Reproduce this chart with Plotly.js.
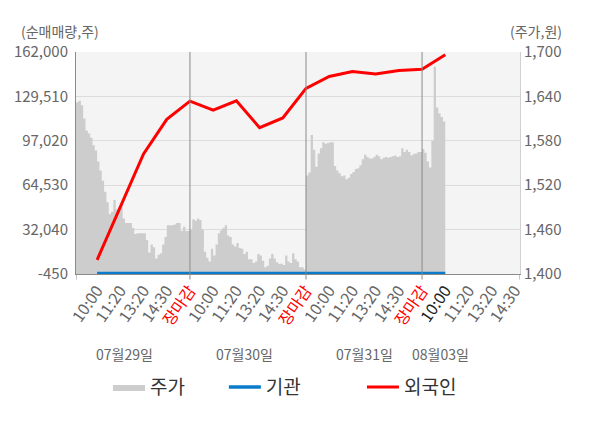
<!DOCTYPE html>
<html>
<head>
<meta charset="utf-8">
<script src="https://cdn.plot.ly/plotly-3.0.1.min.js"></script>
<style>
  html, body { margin: 0; padding: 0; background: #fff; }
  #graph { width: 600px; height: 428px; }
</style>
</head>
<body>
<div id="graph"></div>
<script>
// tick labels and dates
const slotLabels = ['10:00', '11:20', '13:20', '14:30', '장마감']
const dayLabels = ['07월29일', '07월30일', '07월31일', '08월03일']

// left axis (순매매량) and right axis (주가) ticks
const volTicks = [-450, 32040, 64530, 97020, 129510, 162000]
const priceTicks = [1400, 1460, 1520, 1580, 1640, 1700]

// cumulative net buying, one value per slot (10:00 .. 장마감)
const foreignNet = [9900, 49000, 87400, 112750, 126040,
    119400, 126330, 106620, 113780, 135420,
    144050, 147750, 145970, 148480, 149450,
    160000]
const instNet = [0, 0, 0, 0, 0,
    0, 0, 0, 0, 0,
    0, 0, 0, 0, 0,
    0]

// stock price, sampled every 1/10 slot through each day
const priceDay1 = [1630, 1632, 1634, 1628, 1610, 1594, 1590, 1584, 1574, 1567,
    1552, 1540, 1526, 1511, 1497, 1481, 1484, 1500, 1487, 1490,
    1495, 1475, 1469, 1469, 1469, 1462, 1454, 1455, 1455, 1455,
    1455, 1446, 1429, 1440, 1436, 1421, 1426, 1428, 1440, 1450,
    1466, 1466, 1466, 1467, 1469, 1469, 1458, 1464, 1458, 1458]
const priceDay2 = [1460, 1474, 1472, 1475, 1473, 1460, 1430, 1422, 1417, 1434,
    1425, 1440, 1455, 1459, 1462, 1466, 1452, 1450, 1440, 1437,
    1442, 1435, 1434, 1427, 1430, 1420, 1420, 1415, 1417, 1427,
    1425, 1418, 1409, 1411, 1421, 1427, 1421, 1416, 1414, 1414,
    1412, 1425, 1417, 1415, 1428, 1420, 1417, 1409, 1409, 1406]
const priceDay3 = [1533, 1537, 1588, 1568, 1545, 1563, 1570, 1578, 1576, 1577,
    1578, 1578, 1546, 1540, 1536, 1532, 1533, 1528, 1530, 1535,
    1538, 1542, 1543, 1547, 1555, 1561, 1558, 1556, 1556, 1558,
    1561, 1559, 1555, 1557, 1558, 1557, 1558, 1559, 1560, 1558,
    1559, 1570, 1565, 1568, 1565, 1560, 1562, 1563, 1565, 1565]
const priceDay4 = [1569, 1564, 1552, 1544, 1580, 1680, 1625, 1617, 1612, 1606, 1605]

const slotsPerDay = 5
const samplesPerSlot = 10

function priceSeries() {
    let x = [], y = []
    ;[priceDay1, priceDay2, priceDay3, priceDay4].forEach((day, d) => {
        day.forEach((v, i) => {
            x.push(d * slotsPerDay + i / samplesPerSlot)
            y.push(v)
        })
    })
    return {x, y}
}

function slotX(arr) {
    return arr.map((v, i) => i + 1)
}

let tickVals = []
let tickText = []
for (let d = 0; d < dayLabels.length; d++) {
    slotLabels.forEach((lab, i) => {
        let pos = d * slotsPerDay + i + 1
        if (pos > 19) return
        let color = '#666'
        if (lab === '장마감') color = '#ff0000'
        if (d === 3 && i === 0) color = '#222'
        tickVals.push(pos)
        tickText.push('<span style="color:' + color + '">' + lab + '</span>')
    })
}

const fmt = v => v.toLocaleString('en-US')
const font = 'Noto Sans CJK KR, Noto Sans, sans-serif'

function legendAt(x) {
    return {
        orientation: 'h',
        x: x, xanchor: 'left',
        y: -0.51, yanchor: 'middle',
        font: {family: font, size: 19, color: '#333'},
        itemwidth: 32,
        bgcolor: 'rgba(0,0,0,0)'
    }
}

function drawGraph() {
    let price = priceSeries()

    // price sits on the base axis so the net-buying lines draw on top of it
    let data = [
        {
            type: 'scatter',
            mode: 'lines',
            name: '주가',
            legend: 'legend',
            x: price.x,
            y: price.y,
            yaxis: 'y',
            fill: 'tozeroy',
            fillcolor: '#cdcdcd',
            line: {color: '#cdcdcd', width: 0, shape: 'hv'},
            hoverinfo: 'skip'
        },
        {
            type: 'scatter',
            mode: 'lines',
            name: '기관',
            legend: 'legend2',
            x: slotX(instNet),
            y: instNet,
            yaxis: 'y2',
            line: {color: '#0a7ccb', width: 3.5}
        },
        {
            type: 'scatter',
            mode: 'lines',
            name: '외국인',
            legend: 'legend3',
            x: slotX(foreignNet),
            y: foreignNet,
            yaxis: 'y2',
            line: {color: '#ff0000', width: 3}
        }
    ]

    let shapes = [5, 10, 15].map(v => ({
        type: 'line', xref: 'x', yref: 'paper',
        x0: v, x1: v, y0: -0.025, y1: 1,
        line: {color: '#8a8a8a', width: 1}
    }))
    ;[0.09, 19.22].forEach(v => shapes.push({
        type: 'line', xref: 'x', yref: 'paper',
        x0: v, x1: v, y0: -0.025, y1: 0,
        line: {color: '#8a8a8a', width: 1}
    }))

    let dateX = [2.16, 7.37, 12.54, 15.78]
    let annotations = dayLabels.map((t, i) => ({
        text: t, xref: 'x', yref: 'paper', x: dateX[i], y: -0.36,
        xanchor: 'center', yanchor: 'middle',
        showarrow: false, font: {family: font, size: 14, color: '#666'}
    }))
    annotations.push({
        text: '(순매매량,주)', xref: 'paper', yref: 'paper', x: -0.035, y: 1.095,
        xanchor: 'center', yanchor: 'middle',
        showarrow: false, font: {family: font, size: 14, color: '#666'}
    })
    annotations.push({
        text: '(주가,원)', xref: 'paper', yref: 'paper', x: 1.036, y: 1.095,
        xanchor: 'center', yanchor: 'middle',
        showarrow: false, font: {family: font, size: 14, color: '#666'}
    })

    let layout = {
        width: 600,
        height: 428,
        margin: {l: 76, r: 80, t: 52, b: 154},
        paper_bgcolor: '#ffffff',
        plot_bgcolor: '#f4f4f4',
        font: {family: font, size: 14, color: '#666'},
        showlegend: true,
        legend: legendAt(0.072),
        legend2: legendAt(0.333),
        legend3: legendAt(0.644),
        xaxis: {
            range: [0.09, 19.22],
            tickmode: 'array',
            tickvals: tickVals,
            ticktext: tickText,
            tickangle: -55,
            ticks: '',
            showgrid: false,
            zeroline: false,
            showline: true,
            linecolor: '#8a8a8a',
            tickfont: {family: font, size: 16, color: '#666'}
        },
        yaxis: {
            side: 'right',
            range: [1400, 1700],
            tickmode: 'array',
            tickvals: priceTicks,
            ticktext: priceTicks.map(fmt),
            showgrid: true,
            gridcolor: '#dcdcdc',
            zeroline: false,
            showline: true,
            linecolor: '#d0d0d0',
            ticks: '',
            tickfont: {family: font, size: 15, color: '#666'}
        },
        yaxis2: {
            overlaying: 'y',
            side: 'left',
            range: [-450, 162000],
            tickmode: 'array',
            tickvals: volTicks,
            ticktext: volTicks.map(fmt),
            showgrid: false,
            zeroline: true,
            zerolinecolor: '#999',
            showline: true,
            linecolor: '#8a8a8a',
            ticks: '',
            ticklabelstandoff: 4,
            tickfont: {family: font, size: 15, color: '#666'}
        },
        shapes: shapes,
        annotations: annotations
    }

    Plotly.newPlot('graph', data, layout, {displayModeBar: false, staticPlot: true})
}

drawGraph()
</script>
</body>
</html>
